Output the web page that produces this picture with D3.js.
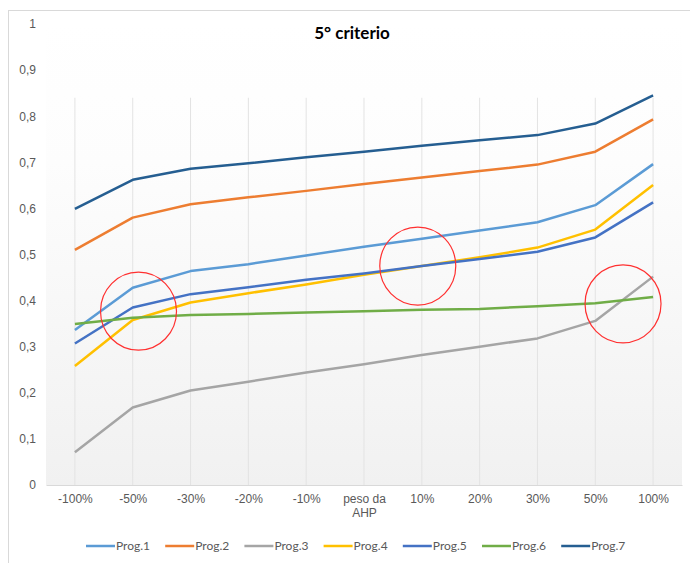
<!DOCTYPE html>
<html>
<head>
<meta charset="utf-8">
<script src="https://cdn.jsdelivr.net/npm/d3@7"></script>
<style>
  body { margin: 0; background: #fff; }
  svg { display: block; font-family: Lato, "Open Sans", sans-serif; }
</style>
</head>
<body>
<div class="vis"></div>
<script>
'use strict';

// categories on the x axis
var categories = ['-100%', '-50%', '-30%', '-20%', '-10%', 'peso da AHP', '10%', '20%', '30%', '50%', '100%'];

// one array of values for each program
var prog1 = [0.336, 0.428, 0.464, 0.479, 0.498, 0.517, 0.534, 0.552, 0.570, 0.607, 0.696];
var prog2 = [0.510, 0.580, 0.609, 0.624, 0.638, 0.653, 0.667, 0.681, 0.695, 0.723, 0.793];
var prog3 = [0.071, 0.168, 0.205, 0.224, 0.244, 0.262, 0.282, 0.300, 0.318, 0.356, 0.452];
var prog4 = [0.258, 0.358, 0.396, 0.416, 0.435, 0.456, 0.475, 0.494, 0.515, 0.554, 0.651];
var prog5 = [0.307, 0.385, 0.414, 0.429, 0.445, 0.459, 0.475, 0.490, 0.506, 0.537, 0.613];
var prog6 = [0.349, 0.363, 0.369, 0.371, 0.374, 0.377, 0.380, 0.382, 0.388, 0.394, 0.408];
var prog7 = [0.599, 0.662, 0.686, 0.698, 0.711, 0.723, 0.736, 0.748, 0.759, 0.784, 0.845];

var seriesNames = ['Prog.1', 'Prog.2', 'Prog.3', 'Prog.4', 'Prog.5', 'Prog.6', 'Prog.7'];
var seriesValues = [prog1, prog2, prog3, prog4, prog5, prog6, prog7];
var seriesColors = ['#5b9bd5', '#ed7d31', '#a5a5a5', '#ffc000', '#4472c4', '#70ad47', '#255e91'];

var yTicks = [0, 0.1, 0.2, 0.3, 0.4, 0.5, 0.6, 0.7, 0.8, 0.9, 1];

// red hand-drawn circles: position given as category index and value
var marks = [
  { at: 1.1, value: 0.377 },
  { at: 5.93, value: 0.475 },
  { at: 9.48, value: 0.393 }
];

var width = 690;
var height = 563;
var plot = { left: 46, right: 682, top: 24, bottom: 485 };

var svg = d3.select('.vis')
  .append('svg')
    .attr('width', width)
    .attr('height', height);

// chart frame
svg.append('rect')
  .attr('x', 8.5).attr('y', 10.5)
  .attr('width', width + 10).attr('height', height + 10)
  .attr('fill', '#fff')
  .attr('stroke', '#d9d9d9');

var grad = svg.append('defs').append('linearGradient')
  .attr('id', 'bg').attr('x1', 0).attr('y1', 0).attr('x2', 0).attr('y2', 1);
grad.append('stop').attr('offset', '0%').attr('stop-color', '#ffffff');
grad.append('stop').attr('offset', '30%').attr('stop-color', '#fdfdfd');
grad.append('stop').attr('offset', '100%').attr('stop-color', '#f1f1f1');

svg.append('rect')
  .attr('x', plot.left).attr('y', plot.top)
  .attr('width', plot.right - plot.left).attr('height', plot.bottom - plot.top)
  .attr('fill', 'url(#bg)');

// scales
var x = d3.scalePoint()
  .domain(categories)
  .range([plot.left, plot.right])
  .padding(0.5);

var step = x.step();
var xAt = function (i) { return x(categories[0]) + i * step; };

var y = d3.scaleLinear()
  .domain([0, 1])
  .range([plot.bottom, plot.top]);

// vertical gridlines (faint near the top, as in the picture)
svg.append('g')
  .selectAll('line')
  .data(categories)
  .enter().append('line')
    .attr('x1', function (d) { return x(d); })
    .attr('x2', function (d) { return x(d); })
    .attr('y1', y(0.84))
    .attr('y2', plot.bottom)
    .attr('stroke', '#e3e3e3');

// x axis
var xAxis = svg.append('g')
  .attr('transform', 'translate(0,' + plot.bottom + ')')
  .call(d3.axisBottom(x).tickSize(0).tickPadding(9));
xAxis.select('.domain').attr('stroke', '#d9d9d9');
xAxis.selectAll('text')
  .attr('fill', '#595959')
  .style('font-size', '12px')
  .each(function (d) {
    var words = d.split(' ');
    if (words.length > 2) {
      var t = d3.select(this).text(null);
      t.append('tspan').attr('x', 0).attr('dy', '0.71em').text(words.slice(0, 2).join(' '));
      t.append('tspan').attr('x', 0).attr('dy', '1.2em').text(words.slice(2).join(' '));
      t.attr('dy', null);
    }
  });

// y axis
var yAxis = svg.append('g')
  .attr('transform', 'translate(' + plot.left + ',0)')
  .call(d3.axisLeft(y).tickValues(yTicks).tickSize(0).tickPadding(10)
    .tickFormat(function (d) { return d === 0 || d === 1 ? String(d) : String(d).replace('.', ','); }));
yAxis.select('.domain').remove();
yAxis.selectAll('text')
  .attr('fill', '#595959')
  .style('font-size', '12px');

// lines
var line = d3.line()
  .x(function (d, i) { return x(categories[i]); })
  .y(function (d) { return y(d); });

svg.append('g')
  .selectAll('path')
  .data(seriesValues)
  .enter().append('path')
    .attr('d', line)
    .attr('fill', 'none')
    .attr('stroke', function (d, i) { return seriesColors[i]; })
    .attr('stroke-width', 2.5)
    .attr('stroke-linejoin', 'round');

// red circles
svg.append('g')
  .selectAll('ellipse')
  .data(marks)
  .enter().append('ellipse')
    .attr('cx', function (d) { return xAt(d.at); })
    .attr('cy', function (d) { return y(d.value); })
    .attr('rx', 38)
    .attr('ry', 39)
    .attr('fill', 'none')
    .attr('stroke', '#ff3030')
    .attr('stroke-width', 1.2);

// title
svg.append('text')
  .attr('x', 352).attr('y', 39)
  .attr('text-anchor', 'middle')
  .attr('fill', '#000')
  .style('font-size', '17px')
  .style('font-weight', 'bold')
  .text('5° criterio');

// legend
var legend = svg.append('g')
  .selectAll('g')
  .data(seriesNames)
  .enter().append('g')
    .attr('transform', function (d, i) { return 'translate(' + (86 + i * 79.2) + ',546)'; });

legend.append('line')
  .attr('x1', 0).attr('x2', 29)
  .attr('stroke', function (d, i) { return seriesColors[i]; })
  .attr('stroke-width', 2.5);

legend.append('text')
  .attr('x', 30).attr('dy', '0.35em')
  .attr('fill', '#595959')
  .style('font-size', '12px')
  .text(function (d) { return d; });
</script>
</body>
</html>
